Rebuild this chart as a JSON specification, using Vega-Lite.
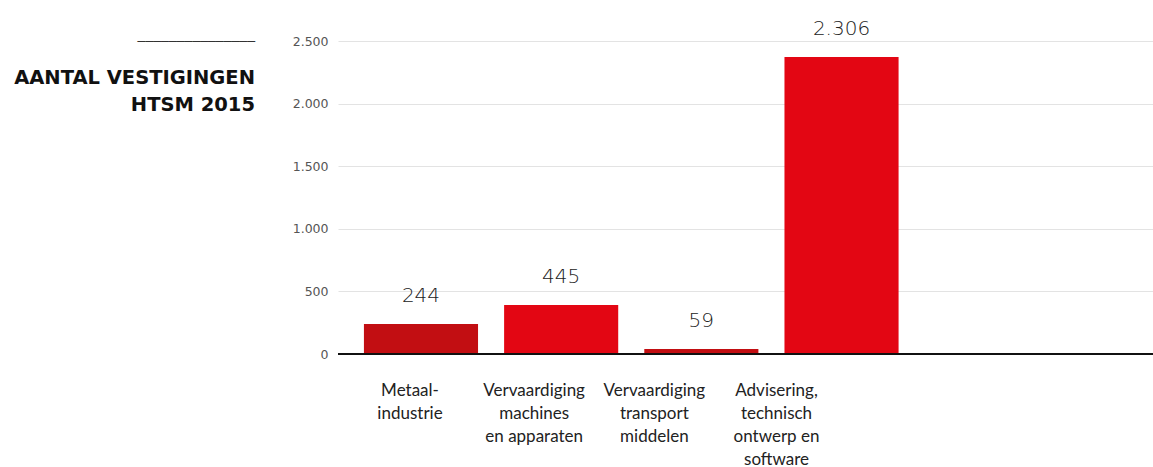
{
  "$schema": "https://vega.github.io/schema/vega-lite/v6.json",
  "width": 815,
  "height": 313,
  "autosize": "none",
  "padding": {"left": 338, "top": 41, "right": 0, "bottom": 113},
  "background": "white",
  "config": {"view": {"stroke": null}},
  "title": {
    "text": "───────────────",
    "subtitle": ["AANTAL VESTIGINGEN", "HTSM 2015"],
    "orient": "top",
    "anchor": "start",
    "frame": "group",
    "align": "right",
    "dx": -83,
    "dy": 95,
    "offset": 0,
    "font": "DejaVu Sans",
    "fontSize": 13,
    "fontWeight": "normal",
    "color": "#333333",
    "subtitleFont": "DejaVu Sans",
    "subtitleFontSize": 19.5,
    "subtitleFontWeight": "bold",
    "subtitleColor": "#111111",
    "subtitleLineHeight": 27,
    "subtitlePadding": 20
  },
  "data": {
    "values": [
      {"sector": "Metaal-|industrie", "bar": 240, "label": "244"},
      {"sector": "Vervaardiging|machines|en apparaten", "bar": 391, "label": "445"},
      {"sector": "Vervaardiging|transport|middelen", "bar": 40, "label": "59"},
      {"sector": "Advisering,|technisch|ontwerp en|software", "bar": 2372, "label": "2.306"}
    ]
  },
  "layer": [
    {
      "mark": {"type": "bar"},
      "encoding": {
        "x": {
          "field": "sector",
          "type": "nominal",
          "sort": null,
          "scale": {"paddingInner": 0.186, "paddingOuter": 1.0036, "align": 0.0925},
          "axis": {
            "title": null,
            "domain": false,
            "ticks": false,
            "labelAngle": 0,
            "labelExpr": "split(datum.value, '|')",
            "labelFont": "Lato",
            "labelFontSize": 17,
            "labelColor": "#222222",
            "labelLineHeight": 23.2,
            "labelPadding": 28,
            "labelLimit": 0,
            "labelOverlap": false,
            "labelOffset": {
              "condition": [
                {"test": "datum.value === 'Metaal-|industrie'", "value": -11},
                {"test": "datum.value === 'Vervaardiging|machines|en apparaten'", "value": -27},
                {"test": "datum.value === 'Vervaardiging|transport|middelen'", "value": -47}
              ],
              "value": -65
            }
          }
        },
        "y": {
          "field": "bar",
          "type": "quantitative",
          "scale": {"domain": [0, 2500], "nice": false},
          "axis": {
            "title": null,
            "values": [0, 500, 1000, 1500, 2000, 2500],
            "labelExpr": "replace(format(datum.value, ','), ',', '.')",
            "domain": false,
            "ticks": false,
            "labelPadding": 10,
            "labelFont": "DejaVu Sans",
            "labelFontSize": 12.5,
            "labelColor": "#555555",
            "gridColor": "#e3e3e3",
            "gridWidth": 1
          }
        },
        "color": {
          "field": "sector",
          "type": "nominal",
          "scale": {
            "domain": ["Metaal-|industrie", "Vervaardiging|machines|en apparaten", "Vervaardiging|transport|middelen", "Advisering,|technisch|ontwerp en|software"],
            "range": ["#c20e12", "#e30613", "#c20e12", "#e30613"]
          },
          "legend": null
        }
      }
    },
    {
      "mark": {"type": "text", "dy": -22, "baseline": "alphabetic", "font": "DejaVu Sans", "fontSize": 20, "fontWeight": 200, "color": "#222222"},
      "encoding": {
        "x": {"field": "sector", "type": "nominal", "sort": null},
        "y": {"field": "bar", "type": "quantitative"},
        "text": {"field": "label"}
      }
    },
    {
      "mark": {"type": "rule", "color": "#111111", "strokeWidth": 2},
      "encoding": {"y": {"datum": 0}}
    }
  ]
}
